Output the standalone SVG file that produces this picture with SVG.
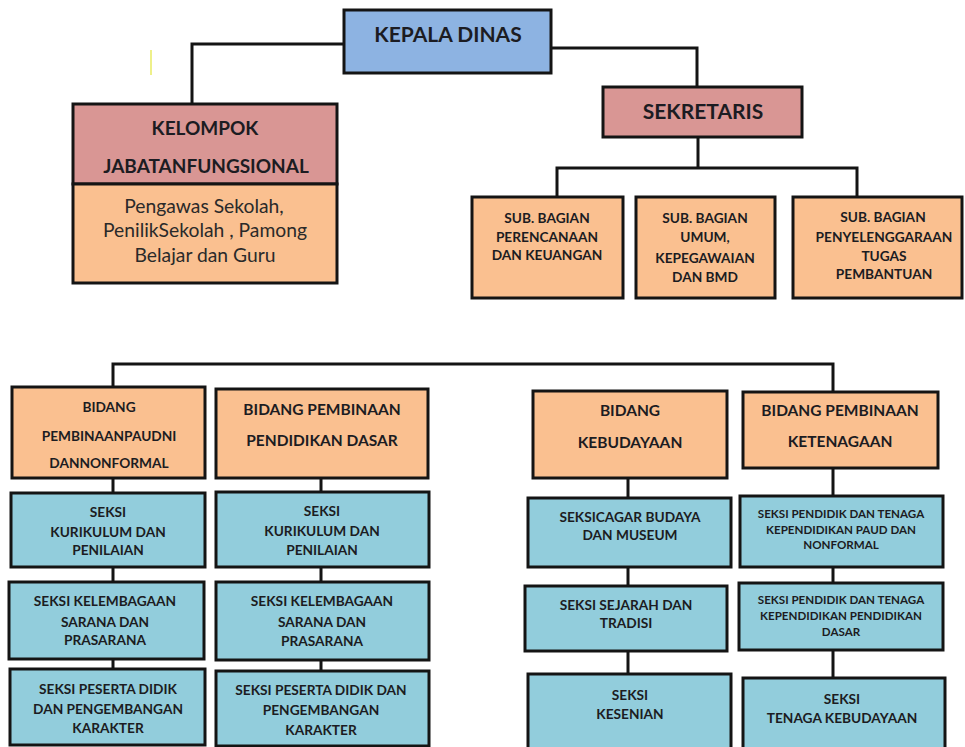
<svg xmlns="http://www.w3.org/2000/svg" width="965" height="747" viewBox="0 0 965 747">
<style>
.bx{stroke:#141414;stroke-width:3}
.blue{fill:#8DB3E2}.red{fill:#D99694}.peach{fill:#FAC090}.aqua{fill:#92CDDC}
text{font-family:Lato,"Liberation Sans",sans-serif;font-weight:bold;fill:#1c1c22;text-anchor:middle}
.reg{font-weight:normal;font-size:19.3px;fill:#2a2a2a}
.t21{font-size:21px}.t19{font-size:21px}.t16{font-size:19px}.t13{font-size:15.5px}.t12{font-size:13.7px}.t11{font-size:11.6px}
.conn{fill:none;stroke:#141414;stroke-width:3}
</style>
<rect width="965" height="747" fill="#ffffff"/>
<line x1="151" y1="50" x2="151" y2="75" stroke="#eef08a" stroke-width="2"/>
<g id="connectors" class="conn">
<path d="M344,44 H192 V104"/>
<path d="M551,48 H697 V87"/>
<path d="M698,137 V168"/>
<path d="M557,197 V168 H857 V197"/>
<path d="M113,387 V364 H833 V392"/>
<path d="M113,478 V493 M113,567 V582 M113,659 V669"/>
<path d="M321,478 V492 M321,567 V582 M321,660 V671"/>
<path d="M628,478 V498 M628,567 V586 M628,651 V674"/>
<path d="M833,468 V496 M833,567 V583 M833,650 V678"/>
</g>
<g id="kepala-dinas">
<rect class="bx blue" x="344" y="10" width="207" height="63"/>
<text class="t21" x="448" y="42">KEPALA DINAS</text>
</g>
<g id="kelompok-jabatan-fungsional">
<rect class="bx red" x="73" y="104" width="264" height="80"/>
<rect class="bx peach" x="73" y="184" width="264" height="99"/>
<text class="t16" x="205" y="135">KELOMPOK</text>
<text class="t16" x="206" y="173">JABATANFUNGSIONAL</text>
<text class="reg" x="204" y="213">Pengawas Sekolah,</text>
<text class="reg" x="205" y="237">PenilikSekolah , Pamong</text>
<text class="reg" x="205" y="262">Belajar dan Guru</text>
</g>
<g id="sekretaris">
<rect class="bx red" x="603" y="87" width="199" height="50"/>
<text class="t19" x="703" y="119">SEKRETARIS</text>
</g>
<g id="sub-perencanaan">
<rect class="bx peach" x="472" y="197" width="151" height="101"/>
<text class="t12" x="547" y="223">SUB. BAGIAN</text>
<text class="t12" x="547" y="242">PERENCANAAN</text>
<text class="t12" x="547" y="260">DAN KEUANGAN</text>
</g>
<g id="sub-umum">
<rect class="bx peach" x="636" y="197" width="139" height="101"/>
<text class="t12" x="705" y="223">SUB. BAGIAN</text>
<text class="t12" x="705" y="242">UMUM,</text>
<text class="t12" x="705" y="263">KEPEGAWAIAN</text>
<text class="t12" x="705" y="282">DAN BMD</text>
</g>
<g id="sub-penyelenggaraan">
<rect class="bx peach" x="793" y="197" width="169" height="101"/>
<text class="t12" x="883" y="222">SUB. BAGIAN</text>
<text class="t12" x="884" y="242">PENYELENGGARAAN</text>
<text class="t12" x="884" y="261">TUGAS</text>
<text class="t12" x="884" y="279">PEMBANTUAN</text>
</g>
<g id="bidang-paudni">
<rect class="bx peach" x="12" y="387" width="193" height="91"/>
<text class="t12" x="109" y="412">BIDANG</text>
<text class="t12" x="109" y="441">PEMBINAANPAUDNI</text>
<text class="t12" x="109" y="468">DANNONFORMAL</text>
</g>
<g id="paudni-kurikulum">
<rect class="bx aqua" x="11" y="493" width="194" height="74"/>
<text class="t12" x="108" y="517">SEKSI</text>
<text class="t12" x="108" y="537">KURIKULUM DAN</text>
<text class="t12" x="108" y="555">PENILAIAN</text>
</g>
<g id="paudni-kelembagaan">
<rect class="bx aqua" x="9" y="582" width="195" height="77"/>
<text class="t12" x="105" y="606">SEKSI KELEMBAGAAN</text>
<text class="t12" x="105" y="627">SARANA DAN</text>
<text class="t12" x="105" y="645">PRASARANA</text>
</g>
<g id="paudni-peserta-didik">
<rect class="bx aqua" x="10" y="669" width="195" height="76"/>
<text class="t12" x="108" y="694">SEKSI PESERTA DIDIK</text>
<text class="t12" x="108" y="714">DAN PENGEMBANGAN</text>
<text class="t12" x="108" y="733">KARAKTER</text>
</g>
<g id="bidang-dikdas">
<rect class="bx peach" x="216" y="389" width="212" height="89"/>
<text class="t13" x="322" y="415">BIDANG PEMBINAAN</text>
<text class="t13" x="322" y="446">PENDIDIKAN DASAR</text>
</g>
<g id="dikdas-kurikulum">
<rect class="bx aqua" x="216" y="492" width="213" height="75"/>
<text class="t12" x="322" y="516">SEKSI</text>
<text class="t12" x="322" y="536">KURIKULUM DAN</text>
<text class="t12" x="322" y="555">PENILAIAN</text>
</g>
<g id="dikdas-kelembagaan">
<rect class="bx aqua" x="216" y="582" width="213" height="78"/>
<text class="t12" x="322" y="606">SEKSI KELEMBAGAAN</text>
<text class="t12" x="322" y="627">SARANA DAN</text>
<text class="t12" x="322" y="646">PRASARANA</text>
</g>
<g id="dikdas-peserta-didik">
<rect class="bx aqua" x="216" y="671" width="213" height="75"/>
<text class="t12" x="321" y="695">SEKSI PESERTA DIDIK DAN</text>
<text class="t12" x="321" y="715">PENGEMBANGAN</text>
<text class="t12" x="321" y="735">KARAKTER</text>
</g>
<g id="bidang-kebudayaan">
<rect class="bx peach" x="533" y="391" width="194" height="87"/>
<text class="t13" x="630" y="416">BIDANG</text>
<text class="t13" x="630" y="448">KEBUDAYAAN</text>
</g>
<g id="kebudayaan-cagar-budaya">
<rect class="bx aqua" x="528" y="498" width="203" height="69"/>
<text class="t12" x="630" y="522">SEKSICAGAR BUDAYA</text>
<text class="t12" x="630" y="540">DAN MUSEUM</text>
</g>
<g id="kebudayaan-sejarah">
<rect class="bx aqua" x="525" y="586" width="202" height="65"/>
<text class="t12" x="626" y="610">SEKSI SEJARAH DAN</text>
<text class="t12" x="626" y="628">TRADISI</text>
</g>
<g id="kebudayaan-kesenian">
<rect class="bx aqua" x="528" y="674" width="203" height="80"/>
<text class="t12" x="630" y="700">SEKSI</text>
<text class="t12" x="630" y="719">KESENIAN</text>
</g>
<g id="bidang-ketenagaan">
<rect class="bx peach" x="743" y="392" width="195" height="76"/>
<text class="t13" x="840" y="416">BIDANG PEMBINAAN</text>
<text class="t13" x="840" y="447">KETENAGAAN</text>
</g>
<g id="ketenagaan-paud">
<rect class="bx aqua" x="740" y="496" width="203" height="71"/>
<text class="t11" x="841" y="518">SEKSI PENDIDIK DAN TENAGA</text>
<text class="t11" x="841" y="534">KEPENDIDIKAN PAUD DAN</text>
<text class="t11" x="841" y="549">NONFORMAL</text>
</g>
<g id="ketenagaan-dikdas">
<rect class="bx aqua" x="739" y="583" width="204" height="67"/>
<text class="t11" x="841" y="604">SEKSI PENDIDIK DAN TENAGA</text>
<text class="t11" x="841" y="620">KEPENDIDIKAN PENDIDIKAN</text>
<text class="t11" x="841" y="636">DASAR</text>
</g>
<g id="ketenagaan-kebudayaan">
<rect class="bx aqua" x="743" y="678" width="202" height="75"/>
<text class="t12" x="842" y="704">SEKSI</text>
<text class="t12" x="842" y="723">TENAGA KEBUDAYAAN</text>
</g>
</svg>
